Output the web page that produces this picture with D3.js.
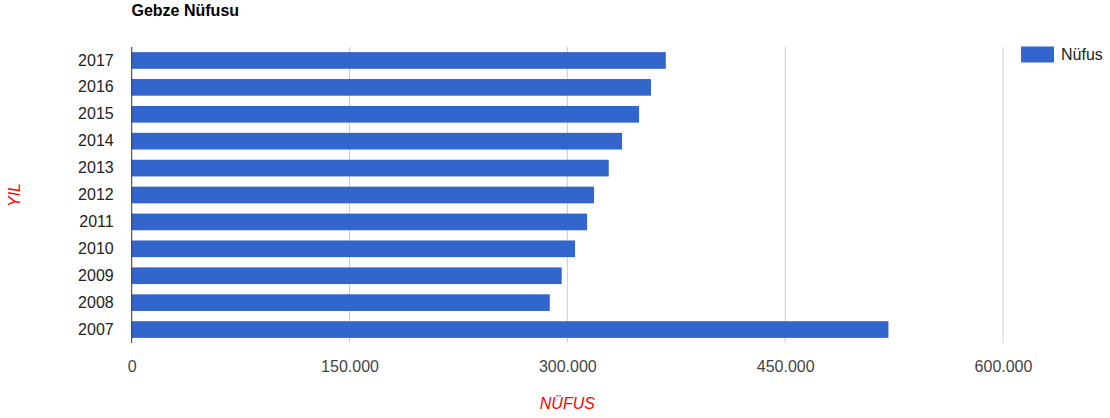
<!DOCTYPE html>
<html><head><meta charset="utf-8">
<script src="https://cdn.jsdelivr.net/npm/d3@7"></script>
<style>body{margin:0;background:#fff;font-family:"Liberation Sans",Arial,sans-serif;}</style>
</head><body>
<svg id="c" width="1110" height="418"></svg>
<script>
const years = ["2017","2016","2015","2014","2013","2012","2011","2010","2009","2008","2007"];
const population = [367800, 357600, 349400, 337700, 328500, 318400, 313600, 305300, 296100, 287900, 521100];
const xTicks = [0, 150000, 300000, 450000, 600000];
const seriesName = "Nüfus";

(function () {
const svg = d3.select("#c");
const mLeft = 131.7, mRight = 1003, mTop = 47, mBottom = 343;
const x = d3.scaleLinear().domain([0, 600000]).range([mLeft, mRight]);
const y = d3.scaleBand().domain(years).range([mTop, mBottom]).paddingInner(0.38).paddingOuter(0.19);
const fmt = v => d3.format(",")(v).replace(/,/g, ".");

// gridlines
svg.append("g").selectAll("line").data(xTicks.slice(1)).join("line")
  .attr("x1", d => x(d)).attr("x2", d => x(d)).attr("y1", mTop).attr("y2", mBottom)
  .attr("stroke", "#cccccc").attr("stroke-width", 1);

// bars
svg.append("g").selectAll("rect").data(years).join("rect")
  .attr("x", x(0)).attr("y", d => y(d))
  .attr("width", (d, i) => x(population[i]) - x(0))
  .attr("height", y.bandwidth())
  .attr("fill", "#3366cc");

// axis line
svg.append("line").attr("x1", x(0)).attr("x2", x(0)).attr("y1", mTop).attr("y2", mBottom)
  .attr("stroke", "#333").attr("stroke-width", 1);

// x axis
const xa = svg.append("g").attr("transform", `translate(0,${mBottom})`)
  .call(d3.axisBottom(x).tickValues(xTicks).tickFormat(fmt).tickSize(0).tickPadding(18));
xa.select(".domain").remove();
xa.selectAll("text").attr("font-size", 16).attr("fill", "#444").attr("font-family", "Liberation Sans, Arial, sans-serif");

// y axis
const ya = svg.append("g").attr("transform", `translate(${mLeft},0)`)
  .call(d3.axisLeft(y).tickSize(0).tickPadding(18));
ya.select(".domain").remove();
ya.selectAll("text").attr("font-size", 16).attr("fill", "#222").attr("font-family", "Liberation Sans, Arial, sans-serif");

// title
svg.append("text").attr("x", 131.5).attr("y", 15.5).text("Gebze Nüfusu")
  .attr("font-size", 16).attr("font-weight", "bold").attr("fill", "#000");

// axis titles
svg.append("text").attr("x", (mLeft + mRight) / 2).attr("y", 409).attr("text-anchor", "middle")
  .attr("font-size", 16).attr("font-style", "italic").attr("fill", "#ff0000").text("NÜFUS");
svg.append("text").attr("transform", `translate(20,${(mTop + mBottom) / 2}) rotate(-90)`).attr("text-anchor", "middle")
  .attr("font-size", 16).attr("font-style", "italic").attr("fill", "#ff0000").text("YIL");

// legend
svg.append("rect").attr("x", 1021).attr("y", 46.5).attr("width", 33).attr("height", 16).attr("fill", "#3366cc");
svg.append("text").attr("x", 1061).attr("y", 60).attr("font-size", 16).attr("fill", "#222").text(seriesName);
})();
</script>
</body></html>
